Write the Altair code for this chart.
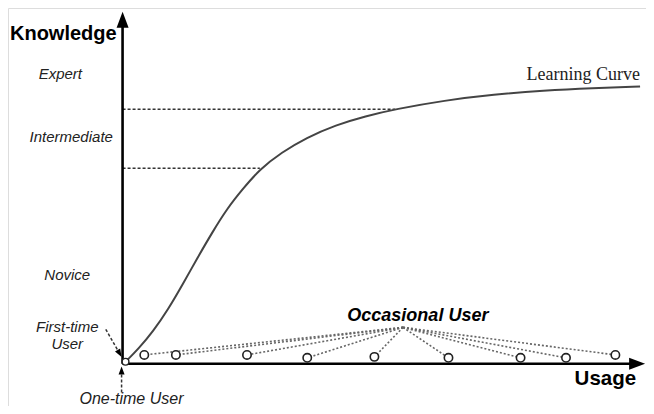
import altair as alt
import pandas as pd

# Coordinate system: usage (x) and knowledge (y) in diagram units
# Learning curve
curve_usage = [127, 140, 155, 170, 185, 200, 215, 230, 245, 263, 285, 310, 340, 370, 400, 450, 500, 550, 600, 648]
curve_knowledge = [46, 59, 77, 99, 125, 152, 178, 202, 221, 242, 259, 274, 287, 296, 303, 312, 318, 322, 324.5, 326]

# Axes (origin and ends)
axis_x0, axis_y0 = 124, 44
axis_x_end = 640
axis_y_end = 387

# Dashed knowledge-level guides
level_y = [303, 243]
level_x_end = [400, 263]

# Occasional users on the usage axis
occ_usage = [146, 178, 250, 311, 379, 454, 527, 573, 623]
occ_knowledge = [53, 53, 53, 50, 51, 50, 50, 50, 53]
occ_hub = (408, 81)

# Arrowheads: x, y, angle, size
arrow_x = [124, 645, 121, 123]
arrow_y = [394, 44, 54.5, 37]
arrow_angle = [0, 90, 150, 0]
arrow_size = [256, 256, 64, 64]

# Pointer lines (dashed)
ptr_x = [107, 123]
ptr_y = [79, 33]
ptr_x2 = [119, 123]
ptr_y2 = [58, 14]

# Labels
ital_text = ["Expert", "Intermediate", "Novice", "First-time", "User", "One-time User"]
ital_x = [61, 72, 68, 68, 68, 133]
ital_y = [334, 270, 129, 76, 59, 3]
ital_size = [15, 15, 15, 15, 15, 16]

X = alt.Scale(domain=[8, 654])
Y = alt.Scale(domain=[1, 406])


def xe(f="x"):
    return alt.X(f"{f}:Q", scale=X, axis=None)


def ye(f="y"):
    return alt.Y(f"{f}:Q", scale=Y, axis=None)


axes_df = pd.DataFrame({
    "x": [axis_x0, axis_x0], "y": [axis_y0, axis_y0],
    "x2": [axis_x0, axis_x_end], "y2": [axis_y_end, axis_y0],
})
axes = alt.Chart(axes_df).mark_rule(color="black", strokeWidth=2.6).encode(
    x=xe(), y=ye(), x2="x2:Q", y2="y2:Q")

arrows_df = pd.DataFrame({"x": arrow_x, "y": arrow_y, "a": arrow_angle, "s": arrow_size})
arrows = alt.Chart(arrows_df).mark_point(
    shape="M0,-1L0.75,1L-0.75,1Z", filled=True, color="black", opacity=1, strokeWidth=0
).encode(x=xe(), y=ye(), angle=alt.Angle("a:Q", scale=None), size=alt.Size("s:Q", scale=None))

curve_df = pd.DataFrame({"x": curve_usage, "y": curve_knowledge})
curve = alt.Chart(curve_df).mark_line(color="#444", strokeWidth=2, interpolate="basis").encode(
    x=xe(), y=ye())

lev_df = pd.DataFrame({"x": [axis_x0] * 2, "x2": level_x_end, "y": level_y})
levels = alt.Chart(lev_df).mark_rule(color="#333", strokeWidth=1.4, strokeDash=[3, 2]).encode(
    x=xe(), x2="x2:Q", y=ye())

ptr_df = pd.DataFrame({"x": ptr_x, "y": ptr_y, "x2": ptr_x2, "y2": ptr_y2})
ptrs = alt.Chart(ptr_df).mark_rule(color="#333", strokeWidth=1.5, strokeDash=[3, 2]).encode(
    x=xe(), y=ye(), x2="x2:Q", y2="y2:Q")

dot_df = pd.DataFrame({"x": [occ_hub[0]] * len(occ_usage), "y": [occ_hub[1]] * len(occ_usage),
                       "x2": occ_usage, "y2": occ_knowledge})
dots = alt.Chart(dot_df).mark_rule(color="#666", strokeWidth=1.6, strokeDash=[2, 2]).encode(
    x=xe(), y=ye(), x2="x2:Q", y2="y2:Q")

occ_df = pd.DataFrame({"x": occ_usage, "y": occ_knowledge})
occ = alt.Chart(occ_df).mark_point(shape="circle", size=70, fill="white", filled=False,
                                   stroke="#222", strokeWidth=1.6, opacity=1).encode(x=xe(), y=ye())

origin_df = pd.DataFrame({"x": [127], "y": [46]})
origin = alt.Chart(origin_df).mark_point(shape="circle", size=45, fill="white", filled=False,
                                         stroke="#222", strokeWidth=1.4, opacity=1).encode(x=xe(), y=ye())

ital_df = pd.DataFrame({"t": ital_text, "x": ital_x, "y": ital_y, "s": ital_size})
ital = alt.Chart(ital_df).mark_text(font="Liberation Sans", fontStyle="italic",
                                    color="#222", align="center", baseline="alphabetic").encode(
    x=xe(), y=ye(), text="t:N", size=alt.Size("s:Q", scale=None))

know_df = pd.DataFrame({"t": ["Knowledge"], "x": [10], "y": [373]})
know = alt.Chart(know_df).mark_text(font="Liberation Sans", fontWeight="bold", fontSize=20,
                                    color="black", align="left", baseline="alphabetic").encode(
    x=xe(), y=ye(), text="t:N")

usage_df = pd.DataFrame({"t": ["Usage"], "x": [644], "y": [22]})
usage = alt.Chart(usage_df).mark_text(font="Liberation Sans", fontWeight="bold", fontSize=20.5,
                                      color="black", align="right", baseline="alphabetic").encode(
    x=xe(), y=ye(), text="t:N")

occ_lab_df = pd.DataFrame({"t": ["Occasional User"], "x": [423], "y": [87]})
occ_lab = alt.Chart(occ_lab_df).mark_text(font="Liberation Sans", fontWeight="bold", fontStyle="italic",
                                          fontSize=18, color="black", align="center",
                                          baseline="alphabetic").encode(x=xe(), y=ye(), text="t:N")

lc_df = pd.DataFrame({"t": ["Learning Curve"], "x": [648], "y": [333]})
lc = alt.Chart(lc_df).mark_text(font="Liberation Serif", fontSize=18, color="#222", align="right",
                                baseline="alphabetic").encode(x=xe(), y=ye(), text="t:N")

chart = alt.layer(levels, curve, dots, ptrs, axes, arrows, occ, origin, ital, know, usage, occ_lab, lc).properties(
    width=638, height=398, padding=0, autosize=alt.AutoSizeParams(type="none")
).configure_view(stroke=None).configure(background="white")

chart.save("out.html", embed_options={"renderer": "svg", "actions": False})
